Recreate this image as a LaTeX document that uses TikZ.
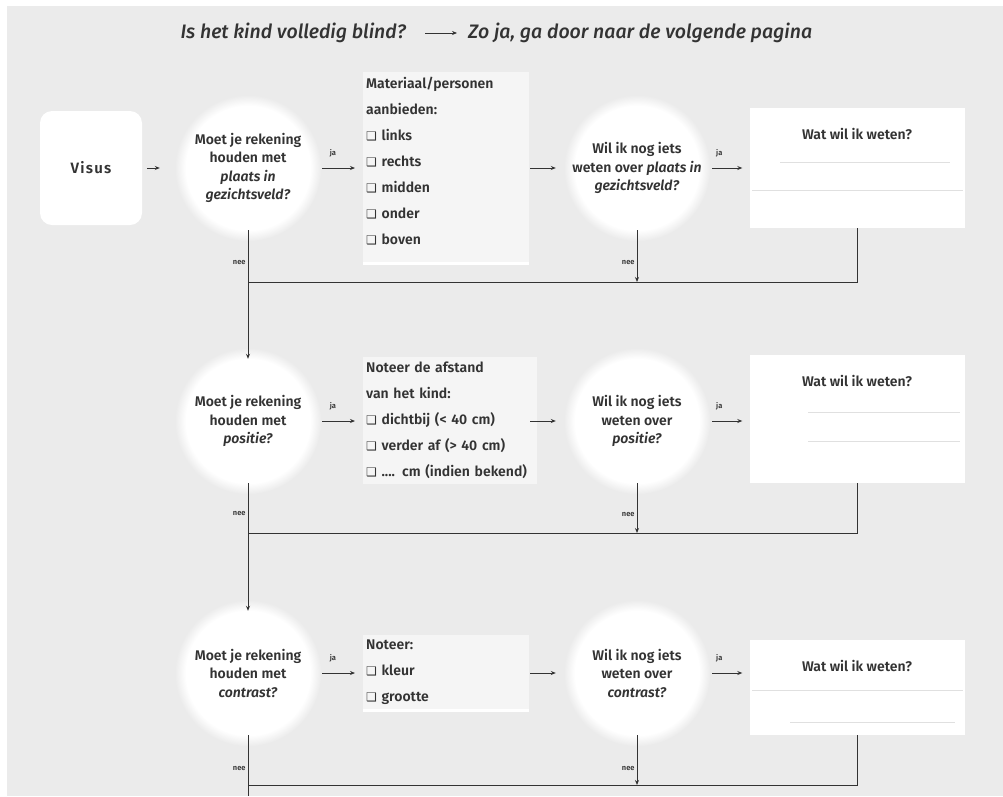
\documentclass[tikz,border=0pt]{standalone}
\usepackage{fontspec}
\setmainfont{Fira Sans}[BoldFont={Fira Sans SemiBold}, BoldItalicFont={Fira Sans SemiBold Italic}]
\newfontfamily\titlefont{Fira Sans Medium Italic}
\newfontfamily\symfont{DejaVu Sans}
\usetikzlibrary{arrows.meta}
\usetikzlibrary{shadows}
\usetikzlibrary{backgrounds}

\definecolor{bggrey}{HTML}{EBEBEB}
\definecolor{ink}{HTML}{333333}
\definecolor{paper}{HTML}{F5F5F5}
\definecolor{rulegrey}{HTML}{E0E0E0}

\newcommand{\tick}{{\symfont\fontsize{12}{12}\selectfont ❑}~}

\tikzset{
	question/.style={circle, fill=white, minimum size=124pt, inner sep=-14pt, align=center, text=ink,
		font=\bfseries\fontsize{14}{18.5}\selectfont, circular glow={fill=white, shadow scale=1.18}},
	listbox/.style={anchor=north west, fill=paper, text width=160pt, inner xsep=3pt, inner ysep=5pt,
		align=left, text=ink, font=\bfseries\fontsize{14}{26}\selectfont},
	visbox/.style={rectangle, rounded corners=12pt, fill=white, minimum width=102pt, minimum height=114pt,
		text=ink, font=\bfseries\fontsize{15}{15}\selectfont\addfontfeature{LetterSpace=8}},
	wantbox/.style={anchor=north, fill=white, minimum width=215pt, inner sep=0pt},
	wanttext/.style={anchor=north, yshift=-17pt, text=ink, font=\bfseries\fontsize{14}{14}\selectfont},
	flow/.style={draw=ink, line width=0.9pt},
	arr/.style={flow, -{Stealth[length=5pt, width=4pt]}},
	tag/.style={text=ink, inner sep=2pt, font=\bfseries\fontsize{7.5}{7.5}\selectfont},
	heading/.style={text=ink, inner sep=0pt, text height=14pt, text depth=4pt, font=\titlefont\fontsize{19.5}{19.5}\selectfont},
	rule/.style={draw=rulegrey, line width=0.8pt}
}

\begin{document}
\begin{tikzpicture}[x=1pt, y=-1pt]
		
		\useasboundingbox (0,0) rectangle (1003,796);
		\begin{scope}[on background layer]
			\fill[white] (0,0) rectangle (1003,796);
			\fill[bggrey] (7,6) rectangle (1003,796);
		\end{scope}
		
		\node[heading, anchor=east] (ask) at (406,33) {Is het kind volledig blind?};
		\node[heading, anchor=west] (next) at (468,33) {Zo ja, ga door naar de volgende pagina};
		\draw[arr, line width=0.7pt, shorten <=19pt, shorten >=11pt] (ask) -- (next);
		
		% row 1
		\node[visbox] (vis) at (91,168) {Visus};
		\node[question] (q1) at (248,168) {Moet je rekening\\houden met\\\textit{plaats in}\\\textit{gezichtsveld?}};
		\node[listbox] (c1) at (363,72) {Materiaal/personen\\aanbieden:\\\tick links\\\tick rechts\\\tick midden\\\tick onder\\\tick boven\\[-12pt]\mbox{}};
		\node[question] (q2) at (637,168) {Wil ik nog iets\\weten over \textit{plaats in}\\\textit{gezichtsveld?}};
		\node[wantbox, minimum height=120pt, label={[wanttext]north:Wat wil ik weten?}] (w1) at (857,108) {};
		\draw[white, line width=3pt] (c1.south west) -- (c1.south east);
		\draw[rule] (780,162) -- (950,162);
		\draw[rule] (752,190) -- (963,190);
		
		% row 2
		\node[question] (q3) at (248,421) {Moet je rekening\\houden met\\\textit{positie?}};
		\node[listbox, text width=168pt] (c2) at (363,357) {Noteer de afstand\\van het kind:\\\tick dichtbij (< 40 cm)\\\tick verder af (> 40 cm)\\\tick .... cm (indien bekend)};
		\node[question] (q4) at (637,421) {Wil ik nog iets\\weten over\\\textit{positie?}};
		\node[wantbox, minimum height=128pt, label={[wanttext]north:Wat wil ik weten?}] (w2) at (857,355) {};
		\draw[rule] (808,412) -- (960,412);
		\draw[rule] (808,441) -- (960,441);
		
		% row 3
		\node[question] (q5) at (248,673) {Moet je rekening\\houden met\\\textit{contrast?}};
		\node[listbox] (c3) at (363,635) {Noteer:\\\tick kleur\\\tick grootte};
		\node[question] (q6) at (637,673) {Wil ik nog iets\\weten over\\\textit{contrast?}};
		\node[wantbox, minimum height=95pt, label={[wanttext]north:Wat wil ik weten?}] (w3) at (857,640) {};
		\draw[white, line width=3pt] (c3.south west) -- (c3.south east);
		\draw[rule] (752,690) -- (963,690);
		\draw[rule] (790,722) -- (955,722);
		
		\coordinate (j1) at (248,282);
		\coordinate (j2) at (248,533);
		\coordinate (j3) at (248,785);
		\coordinate (bot) at (248,796);
		
		% ja
		\draw[arr, shorten <=5pt, shorten >=26pt] (vis) -- (q1);
		\draw[arr, shorten <=12pt, shorten >=8pt] (q1) -- (c1.west |- q1) node[tag, pos=0.43, above=8pt]{ja};
		\draw[arr, shorten <=1pt, shorten >=19pt] (c1.east |- q2) -- (q2);
		\draw[arr, shorten <=13pt, shorten >=7pt] (q2) -- (w1.west |- q2) node[tag, pos=0.4, above=8pt]{ja};
		
		\draw[arr, shorten <=12pt, shorten >=8pt] (q3) -- (c2.west |- q3) node[tag, pos=0.43, above=8pt]{ja};
		\draw[arr, shorten <=-7pt, shorten >=19pt] (c2.east |- q4) -- (q4);
		\draw[arr, shorten <=13pt, shorten >=7pt] (q4) -- (w2.west |- q4) node[tag, pos=0.4, above=8pt]{ja};
		
		\draw[arr, shorten <=12pt, shorten >=8pt] (q5) -- (c3.west |- q5) node[tag, pos=0.43, above=8pt]{ja};
		\draw[arr, shorten <=1pt, shorten >=19pt] (c3.east |- q6) -- (q6);
		\draw[arr, shorten <=13pt, shorten >=7pt] (q6) -- (w3.west |- q6) node[tag, pos=0.4, above=8pt]{ja};
		
		% nee
		\draw[arr] (q1) -- (q3) node[tag, pos=0.25, left]{nee};
		\draw[arr] (q2) -- (q2 |- j1) node[tag, pos=0.62, left]{nee};
		\draw[flow] (w1.south) |- (j1);
		
		\draw[arr] (q3) -- (q5) node[tag, pos=0.24, left]{nee};
		\draw[arr] (q4) -- (q4 |- j2) node[tag, pos=0.62, left]{nee};
		\draw[flow] (w2.south) |- (j2);
		
		\draw[flow] (q5) -- (bot) node[tag, pos=0.54, left]{nee};
		\draw[arr] (q6) -- (q6 |- j3) node[tag, pos=0.66, left]{nee};
		\draw[flow] (w3.south) |- (j3);
		
	\end{tikzpicture}
\end{document}
